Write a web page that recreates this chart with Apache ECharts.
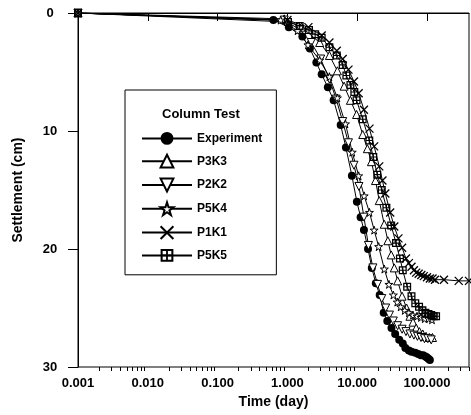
<!DOCTYPE html>
<html>
<head>
<meta charset="utf-8">
<script src="https://cdn.jsdelivr.net/npm/echarts@6/dist/echarts.min.js"></script>
<style>
html,body{margin:0;padding:0;background:#fff;}
#c{width:471px;height:415px;}
</style>
</head>
<body>
<div id="c"></div>
<script>
// ---- Data (time in days, settlement in cm) ----
const seriesNames = ['Experiment', 'P3K3', 'P2K2', 'P5K4', 'P1K1', 'P5K5'];

const expT = [0.001, 0.63, 1.05, 1.64, 2.1, 2.6, 3.1, 3.8, 4.6, 5.8, 6.9, 8.4, 9.9, 11.2, 12.5, 14.3, 16.2, 18.5, 21, 24, 27, 31, 35, 40, 45, 49, 55, 60, 68, 75, 82, 88, 95, 100, 105, 110];
const expS = [0, 0.6, 1.2, 2.0, 3.0, 4.2, 5.2, 6.3, 7.4, 9.5, 11.4, 13.8, 16.0, 17.3, 18.4, 20.0, 21.6, 22.9, 23.9, 25.4, 26.1, 26.7, 27.2, 27.7, 28.0, 28.4, 28.6, 28.7, 28.8, 28.9, 29.0, 29.0, 29.1, 29.2, 29.3, 29.4];

const p3k3T = [0.001, 0.9, 1.6, 2.9, 4.0, 5.2, 6.5, 8.0, 9.8, 12.0, 14, 16, 18.3, 20.7, 24.4, 27.5, 30.7, 34, 38, 44, 51, 57, 63, 70, 78, 87, 97, 108, 120];
const p3k3S = [0, 0.5, 1.2, 2.5, 3.6, 4.9, 6.2, 7.4, 8.6, 10.3, 11.5, 12.6, 14.2, 15.9, 17.9, 19.3, 20.5, 21.6, 22.7, 24.0, 25.0, 25.7, 26.2, 26.7, 27.0, 27.2, 27.4, 27.5, 27.5];

const p2k2T = [0.001, 0.9, 1.5, 2.2, 3.0, 4.0, 5.0, 6.2, 7.5, 9.0, 10.6, 12.5, 14.5, 16.8, 19.6, 22.5, 25.6, 29, 33, 38, 44, 50, 57, 65, 73, 82, 92, 103, 115];
const p2k2S = [0, 0.6, 1.4, 2.5, 3.9, 5.6, 7.3, 9.2, 11.0, 12.9, 14.7, 17.3, 19.7, 21.6, 23.0, 24.2, 25.0, 25.6, 26.1, 26.5, 26.8, 27.0, 27.2, 27.3, 27.4, 27.5, 27.6, 27.6, 27.7];

const p5k4T = [0.001, 0.8, 1.4, 1.97, 2.9, 4.0, 5.2, 6.8, 8.5, 10.5, 12.6, 15, 17.5, 20.3, 24.5, 28.5, 33, 37.5, 42, 48, 55, 63, 72, 82, 93, 105, 118];
const p5k4S = [0, 0.6, 1.5, 2.7, 4.0, 5.4, 7.2, 9.4, 11.8, 13.8, 15.5, 16.9, 18.4, 19.8, 21.7, 23.0, 23.9, 24.5, 24.9, 25.2, 25.4, 25.6, 25.7, 25.8, 25.9, 25.9, 26.0];

const p1k1T = [0.001, 1.0, 2.0, 3.1, 4.0, 5.1, 6.2, 7.5, 9.0, 10.5, 12.5, 15, 17.5, 20.7, 23, 25.3, 29.7, 34, 39, 44, 50, 55, 60, 65, 70, 76, 83, 90, 100, 110, 120, 130, 175, 285, 400];
const p1k1S = [0, 0.6, 1.2, 1.9, 2.5, 3.2, 3.9, 4.8, 5.8, 6.8, 8.2, 9.8, 11.3, 13.0, 14.2, 15.3, 16.9, 18.1, 19.1, 19.9, 20.8, 21.2, 21.5, 21.8, 22.0, 22.1, 22.2, 22.3, 22.4, 22.5, 22.5, 22.6, 22.6, 22.7, 22.7];

const p5k5T = [0.001, 1.02, 1.5, 2.04, 2.5, 3.1, 4.0, 5.1, 6.2, 7.0, 8.0, 9.1, 9.8, 12.0, 14.9, 17, 19.4, 22.5, 26.2, 30.7, 36, 41, 45, 52, 60, 68, 77, 86, 95, 105, 115, 125, 135];
const p5k5S = [0, 0.76, 1.1, 1.44, 1.8, 2.1, 2.9, 3.6, 4.4, 5.3, 6.1, 6.7, 7.4, 9.0, 10.8, 12.2, 13.7, 15.0, 16.5, 18.0, 19.5, 20.8, 21.8, 23.2, 24.0, 24.6, 24.9, 25.2, 25.4, 25.5, 25.6, 25.7, 25.7];

const majorTicks = [0.001, 0.01, 0.1, 1, 10, 100];
const minorTicks = [];
[0.001, 0.01, 0.1, 1, 10, 100].forEach(function (d) {
  for (let k = 2; k <= 9; k++) { const v = +(d * k).toPrecision(3); if (v <= 400) minorTicks.push(v); }
});
const yTicks = [0, 10, 20, 30];

// ---- Build ----
function pairs(t, s) { return t.map(function (v, i) { return [v, s[i]]; }); }

const FONT = '"Liberation Sans", Arial, Helvetica, sans-serif';
const starPath = 'path://M5,0L6.2,3.6L10,3.6L6.9,5.9L8.1,9.5L5,7.3L1.9,9.5L3.1,5.9L0,3.6L3.8,3.6Z';
const crossPath = 'path://M0,0L10,10M10,0L0,10';
const gridSqPath = 'path://M0,0H10V10H0Z M1.6,1.6V4.3H4.3V1.6Z M5.7,1.6V4.3H8.4V1.6Z M1.6,5.7V8.4H4.3V5.7Z M5.7,5.7V8.4H8.4V5.7Z';
const downTri = 'path://M0,0H10L5,9Z';

const defs = [
  { name: seriesNames[0], data: pairs(expT, expS), symbol: 'circle', size: 8, fill: '#000', bw: 0 },
  { name: seriesNames[1], data: pairs(p3k3T, p3k3S), symbol: 'triangle', size: 8, fill: '#fff', bw: 1 },
  { name: seriesNames[2], data: pairs(p2k2T, p2k2S), symbol: downTri, size: 8, fill: '#fff', bw: 1 },
  { name: seriesNames[3], data: pairs(p5k4T, p5k4S), symbol: starPath, size: 8, fill: '#fff', bw: 1 },
  { name: seriesNames[4], data: pairs(p1k1T, p1k1S), symbol: crossPath, size: 8, fill: '#000', bw: 1.3 },
  { name: seriesNames[5], data: pairs(p5k5T, p5k5S), symbol: gridSqPath, size: 8, fill: '#000', bw: 0 }
];

const series = defs.map(function (d) {
  return {
    type: 'line',
    name: d.name,
    data: d.data,
    xAxisIndex: 0,
    yAxisIndex: 0,
    symbol: d.symbol,
    symbolSize: d.size,
    showAllSymbol: true,
    lineStyle: { color: '#000', width: 1 },
    itemStyle: { color: d.fill, borderColor: '#000', borderWidth: d.bw },
    emphasis: { disabled: true },
    silent: true,
    z: 3
  };
});

const chart = echarts.init(document.getElementById('c'), null, { renderer: 'canvas' });
chart.setOption({
  animation: false,
  backgroundColor: '#fff',
  textStyle: { fontFamily: FONT },
  title: {
    text: 'Column Test',
    left: 162, top: 108, padding: 0,
    textStyle: { fontFamily: FONT, fontSize: 13, fontWeight: 'bold', color: '#000' }
  },
  legend: {
    orient: 'vertical',
    left: 125, top: 90,
    padding: [42, 14, 13, 16],
    borderColor: '#000', borderWidth: 1,
    itemWidth: 50, itemHeight: 16, itemGap: 9,
    data: seriesNames,
    textStyle: { fontFamily: FONT, fontSize: 12, fontWeight: 'bold', color: '#000' },
    selectedMode: false
  },
  grid: {
    left: 78, right: 2, top: 13, bottom: 48,
    show: true, borderColor: '#000', borderWidth: 1, backgroundColor: 'transparent'
  },
  xAxis: [{
    type: 'log', logBase: 10, min: 0.001, max: 400,
    position: 'bottom',
    name: 'Time (day)', nameLocation: 'middle', nameGap: 26,
    nameTextStyle: { fontFamily: FONT, fontSize: 14, fontWeight: 'bold', color: '#000' },
    axisLine: { show: true, lineStyle: { color: '#000', width: 1 } },
    axisTick: { show: true, inside: false, length: 8, customValues: majorTicks, lineStyle: { color: '#000' } },
    axisLabel: {
      customValues: majorTicks, margin: 10,
      fontFamily: FONT, fontSize: 13, fontWeight: 'bold', color: '#000',
      formatter: function (v) { return (+v).toFixed(3); }
    },
    splitLine: { show: false }
  }, {
    type: 'log', logBase: 10, min: 0.001, max: 400,
    position: 'bottom', offset: 0,
    axisLine: { show: false },
    axisTick: { show: true, inside: false, length: 4, customValues: minorTicks, lineStyle: { color: '#000' } },
    axisLabel: { show: false },
    splitLine: { show: false }
  }],
  yAxis: [{
    type: 'value', min: 0, max: 30, interval: 10, inverse: true,
    name: 'Settlement (cm)', nameLocation: 'middle', nameGap: 53,
    nameTextStyle: { fontFamily: FONT, fontSize: 14, fontWeight: 'bold', color: '#000' },
    axisLine: { show: true, lineStyle: { color: '#000', width: 1 } },
    axisTick: { show: true, inside: false, length: 10, lineStyle: { color: '#000' } },
    axisLabel: { margin: 28, align: 'center', fontFamily: FONT, fontSize: 13, fontWeight: 'bold', color: '#000' },
    splitLine: { show: false }
  }],
  series: series
});
</script>
</body>
</html>
